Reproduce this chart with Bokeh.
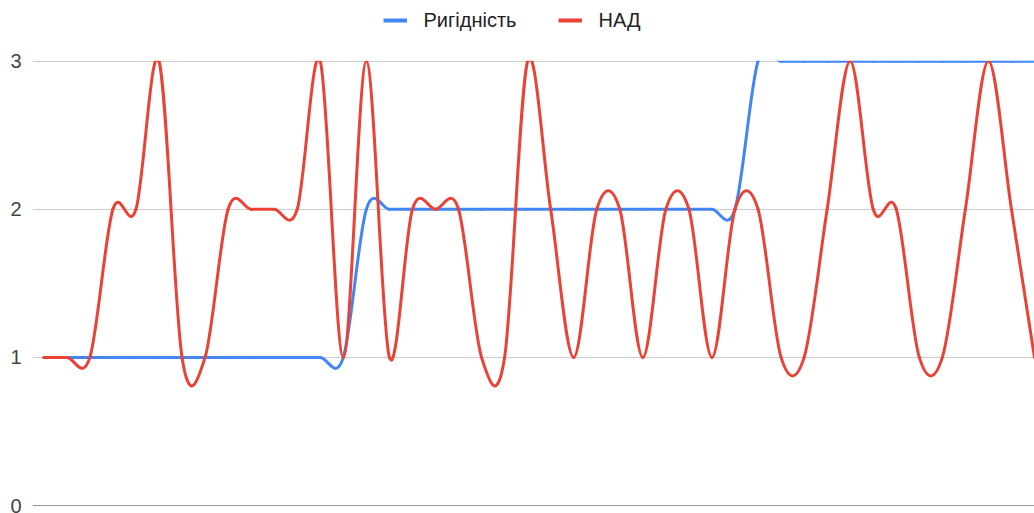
from bokeh.plotting import figure
from bokeh.models import (Range1d, FixedTicker, Legend, LegendItem, Span,
                          ColumnDataSource, BoxAnnotation)
from bokeh.embed import file_html
from bokeh.resources import INLINE

# ---- data ----
series_names = ["Ригідність", "НАД"]
series_colors = ["#4285F4", "#EA4335"]
y_ticks = [0, 1, 2, 3]

rigidity = [1, 1, 1, 1, 1, 1, 1, 1, 1, 1, 1, 1, 1, 1,
            2, 2, 2, 2, 2, 2, 2, 2, 2, 2, 2, 2, 2, 2, 2, 2, 2,
            3, 3, 3, 3, 3, 3, 3, 3, 3, 3, 3, 3, 3]
nad = [1, 1, 1, 2, 2, 3, 1, 1, 2, 2, 2, 2, 3, 1, 3, 1, 2, 2, 2, 1, 1, 3,
       2, 1, 2, 2, 1, 2, 2, 1, 2, 2, 1, 1, 2, 3, 2, 2, 1, 1, 2, 3, 2, 1]
obs = list(range(len(nad)))

FONT = "Liberation Sans"


def smooth_segments(xs, ys):
    """Cubic Bezier segments (smoothed 'function' curve) through the data points."""
    n = len(xs)

    def tangent(i):
        a, b = max(i - 1, 0), min(i + 1, n - 1)
        return xs[b] - xs[a], ys[b] - ys[a]

    d = dict(x0=[], y0=[], x1=[], y1=[], cx0=[], cy0=[], cx1=[], cy1=[])
    for i in range(n - 1):
        t0, t1 = tangent(i), tangent(i + 1)
        d["x0"].append(xs[i]); d["y0"].append(ys[i])
        d["x1"].append(xs[i + 1]); d["y1"].append(ys[i + 1])
        d["cx0"].append(xs[i] + t0[0] / 6); d["cy0"].append(ys[i] + t0[1] / 6)
        d["cx1"].append(xs[i + 1] - t1[0] / 6); d["cy1"].append(ys[i + 1] - t1[1] / 6)
    return ColumnDataSource(d)


# frame spans the whole height; the area above 3 is masked to act as the chart-area clip
p = figure(width=1034, height=513, output_backend="svg", toolbar_location=None,
           x_range=Range1d(-0.49, obs[-1]), y_range=Range1d(y_ticks[0], 3.41),
           min_border_left=32, min_border_right=0, min_border_top=0, min_border_bottom=8)
p.outline_line_color = None
p.background_fill_color = "white"
p.border_fill_color = "white"

p.xaxis.visible = False
p.xgrid.visible = False

yax = p.yaxis[0]
yax.ticker = FixedTicker(ticks=y_ticks)
yax.axis_line_color = None
yax.major_tick_line_color = None
yax.minor_tick_line_color = None
yax.major_tick_out = 0
yax.major_label_standoff = 11
yax.major_label_text_font = FONT
yax.major_label_text_font_size = "20px"
yax.major_label_text_color = "#444444"

p.ygrid.ticker = FixedTicker(ticks=y_ticks[1:])
p.ygrid.grid_line_color = "#cccccc"
p.ygrid.grid_line_width = 1

p.add_layout(Span(location=0, dimension="width", line_color="#333333", line_width=1))

legend_items = []
for name, color, ys in zip(series_names, series_colors, [rigidity, nad]):
    src = smooth_segments(obs, ys)
    p.bezier(x0="x0", y0="y0", x1="x1", y1="y1", cx0="cx0", cy0="cy0", cx1="cx1", cy1="cy1",
             source=src, line_color=color, line_width=3, line_cap="round")
    dummy = p.line(x=[float("nan")], y=[float("nan")], line_color=color, line_width=4)
    legend_items.append(LegendItem(label=name, renderers=[dummy]))

# mask everything above the top of the value axis (chart-area clipping)
p.add_layout(BoxAnnotation(bottom=3.004, fill_color="white", fill_alpha=1.0,
                           line_alpha=0))

legend = Legend(items=legend_items, orientation="horizontal", location=(350.5, 473),
                glyph_width=24, glyph_height=24, label_height=24, label_standoff=17,
                spacing=41, padding=0, margin=0,
                label_text_font=FONT, label_text_font_size="20px",
                label_text_color="#222222",
                background_fill_alpha=0, border_line_color=None)
p.add_layout(legend, "center")

open("out.html", "w").write(file_html(p, INLINE))
